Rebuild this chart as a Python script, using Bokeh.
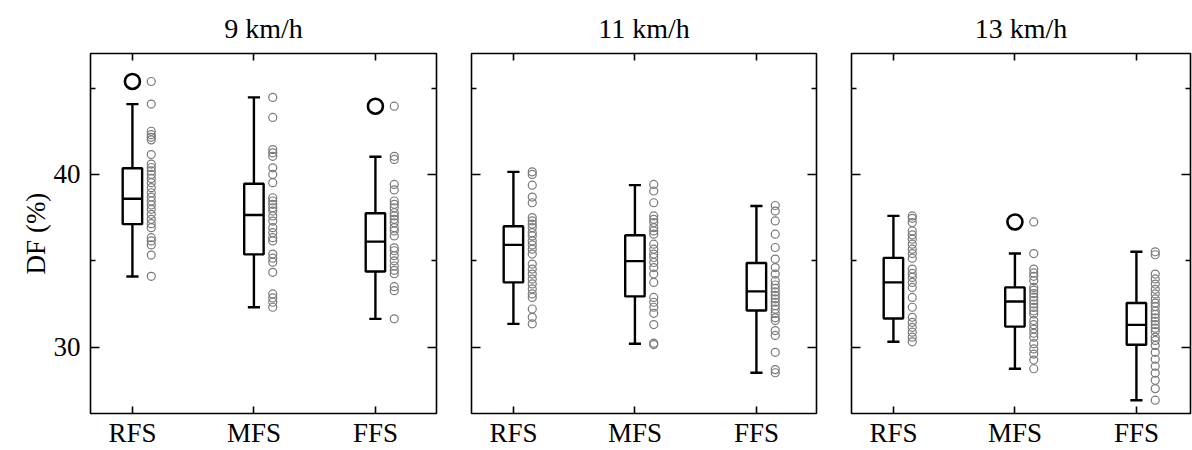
from bokeh.plotting import figure
from bokeh.layouts import row
from bokeh.models import FixedTicker, LinearAxis, Range1d, ColumnDataSource
from bokeh.embed import file_html
from bokeh.resources import INLINE

# ---------------- data ----------------
speeds = ["9 km/h", "11 km/h", "13 km/h"]
strikes = ["RFS", "MFS", "FFS"]

# box statistics per speed (order: RFS, MFS, FFS)
q1 = [[37.12, 35.37, 34.38], [33.75, 32.94, 32.12], [31.66, 31.19, 30.14]]
med = [[38.59, 37.65, 36.11], [35.92, 34.98, 33.23], [33.75, 32.64, 31.29]]
q3 = [[40.36, 39.46, 37.75], [37.00, 36.48, 34.87], [35.17, 33.46, 32.56]]
whis_lo = [[34.09, 32.31, 31.64], [31.35, 30.20, 28.52], [30.31, 28.75, 26.93]]
whis_hi = [[44.07, 44.46, 41.02], [40.15, 39.38, 38.17], [37.60, 35.42, 35.52]]
outliers = [[[45.38], [], [43.95]], [[], [], []], [[], [37.25], []]]

pts_9_rfs = [45.38, 44.07, 42.5, 42.3, 42.15, 42.0, 41.15, 40.6, 40.4, 40.2, 40.0, 39.77,
             39.52, 39.23, 38.94, 38.69, 38.46, 38.23, 37.98, 37.69, 37.4, 37.15, 36.92,
             36.34, 36.15, 35.92, 35.33, 34.1]
pts_9_mfs = [44.46, 43.3, 41.44, 41.25, 41.05, 40.38, 40.0, 39.52, 38.65, 38.46, 38.27,
             38.07, 37.88, 37.6, 37.3, 36.92, 36.63, 36.34, 36.15, 35.39, 35.15, 34.92,
             34.33, 33.08, 32.85, 32.6, 32.31]
pts_9_ffs = [43.95, 41.05, 40.87, 39.42, 39.1, 38.46, 38.27, 38.07, 37.78, 37.6, 37.4, 37.2,
             36.92, 36.73, 36.44, 35.75, 35.58, 35.3, 35.0, 34.7, 34.45, 34.25, 33.5, 33.27,
             31.64]
pts_11_rfs = [40.15, 40.0, 39.38, 38.69, 38.36, 37.5, 37.31, 37.12, 36.92, 36.63, 36.44,
              36.15, 35.92, 35.67, 35.39, 34.81, 34.52, 34.23, 33.94, 33.66, 33.37, 33.08,
              32.88, 32.21, 31.73, 31.35]
pts_11_mfs = [39.42, 39.04, 38.36, 37.6, 37.4, 37.21, 36.92, 36.73, 36.54, 35.96, 35.67,
              35.39, 35.19, 34.9, 34.61, 34.23, 33.75, 32.88, 32.6, 32.31, 31.96, 31.31,
              30.23, 30.15]
pts_11_ffs = [38.2, 37.88, 37.31, 36.54, 35.77, 35.1, 34.61, 34.23, 33.85, 33.6, 33.4, 33.2,
              33.0, 32.8, 32.6, 32.4, 32.2, 31.95, 31.7, 31.54, 30.96, 30.68, 29.7, 28.7,
              28.52]
pts_13_rfs = [37.6, 37.46, 37.21, 36.73, 36.5, 36.25, 35.96, 35.67, 35.42, 35.15, 34.52,
              34.27, 34.04, 33.75, 33.46, 32.88, 32.31, 31.73, 31.44, 31.15, 30.87, 30.58,
              30.31]
pts_13_mfs = [37.25, 35.42, 34.52, 34.3, 34.1, 33.85, 33.46, 33.3, 33.1, 32.9, 32.7, 32.5,
              32.3, 32.1, 31.92, 31.54, 31.3, 31.05, 30.8, 30.58, 30.2, 29.9, 29.6, 29.25,
              28.75]
pts_13_ffs = [35.52, 35.35, 34.23, 33.95, 33.65, 33.35, 33.08, 32.79, 32.55, 32.35, 32.1,
              31.9, 31.7, 31.5, 31.3, 31.1, 30.9, 30.58, 30.39, 30.1, 29.7, 29.3, 28.9, 28.5,
              28.08, 27.6, 26.93]
points = [[pts_9_rfs, pts_9_mfs, pts_9_ffs],
          [pts_11_rfs, pts_11_mfs, pts_11_ffs],
          [pts_13_rfs, pts_13_mfs, pts_13_ffs]]

y_ticks = [30, 40]
y_minor = [25, 35, 45]
y_lim = (26.16, 47.0)

# ---------------- style ----------------
FONT = "Liberation Serif"
FS = "27px"
TITLE_FS = "28px"
BOX_W = 0.16
CAP_W = 0.10
PT_OFF = 0.155
X_LO = -0.345
UNIT_PX = 121.5
FIG_H = 450

layout_specs = [  # (min_border_left, frame_width, min_border_right)
    (90, 346, 17),
    (18, 345, 17),
    (18, 339, 2),
]


def style_axis(ax, labels=True):
    ax.axis_line_color = None
    ax.major_tick_in = 9
    ax.major_tick_out = 0
    ax.minor_tick_in = 5
    ax.minor_tick_out = 0
    ax.major_tick_line_width = 1.6
    ax.minor_tick_line_width = 1.6
    ax.major_tick_line_color = "black"
    ax.minor_tick_line_color = "black"
    if labels:
        ax.major_label_text_font = FONT
        ax.major_label_text_font_size = FS
        ax.major_label_text_color = "black"
    else:
        ax.major_label_text_font_size = "0px"
        ax.major_label_text_color = None
        ax.major_label_standoff = 0


figs = []
for i, speed in enumerate(speeds):
    bl, fw, br = layout_specs[i]
    xr = Range1d(X_LO, X_LO + fw / UNIT_PX)
    p = figure(width=bl + fw + br, height=FIG_H, x_range=xr, y_range=Range1d(*y_lim),
               output_backend="svg", toolbar_location=None, title=speed,
               min_border_left=bl, min_border_right=br, min_border_top=52,
               min_border_bottom=37)
    p.background_fill_color = "white"
    p.border_fill_color = "white"
    p.xgrid.visible = False
    p.ygrid.visible = False
    p.outline_line_color = "black"
    p.outline_line_width = 1.6
    p.title.text_font = FONT
    p.title.text_font_size = TITLE_FS
    p.title.text_font_style = "normal"
    p.title.text_color = "black"
    p.title.align = "center"
    p.title.standoff = 20

    xt = FixedTicker(ticks=list(range(len(strikes))), minor_ticks=[])
    yt = FixedTicker(ticks=y_ticks, minor_ticks=y_minor)

    bottom = p.xaxis[0]
    left = p.yaxis[0]
    top = LinearAxis()
    right = LinearAxis()
    p.add_layout(top, "above")
    p.add_layout(right, "right")

    for ax in (bottom, top):
        ax.ticker = xt
    for ax in (left, right):
        ax.ticker = yt
    style_axis(bottom, True)
    bottom.major_tick_in = 7
    bottom.major_label_overrides = {k: s for k, s in enumerate(strikes)}
    bottom.major_label_standoff = 4
    style_axis(top, False)
    top.major_tick_in = 7
    style_axis(right, False)
    if i == 0:
        style_axis(left, True)
        left.major_label_standoff = 10
        left.axis_label = "DF (%)"
        left.axis_label_text_font = FONT
        left.axis_label_text_font_size = FS
        left.axis_label_text_font_style = "normal"
        left.axis_label_text_color = "black"
        left.axis_label_standoff = 0
    else:
        style_axis(left, False)

    xs = list(range(len(strikes)))
    src = ColumnDataSource(dict(
        x=xs,
        l=[x - BOX_W / 2 for x in xs], r=[x + BOX_W / 2 for x in xs],
        cl=[x - CAP_W / 2 for x in xs], cr=[x + CAP_W / 2 for x in xs],
        q1=q1[i], med=med[i], q3=q3[i], lo=whis_lo[i], hi=whis_hi[i],
    ))
    lk = dict(line_color="black", line_width=2.4, source=src)
    p.segment(x0="x", x1="x", y0="q3", y1="hi", **lk)
    p.segment(x0="x", x1="x", y0="lo", y1="q1", **lk)
    p.segment(x0="cl", x1="cr", y0="hi", y1="hi", **lk)
    p.segment(x0="cl", x1="cr", y0="lo", y1="lo", **lk)
    p.quad(left="l", right="r", bottom="q1", top="q3", fill_color="white", **lk)
    p.segment(x0="l", x1="r", y0="med", y1="med", **lk)

    # outliers
    ox, oy = [], []
    for k, vals in enumerate(outliers[i]):
        ox += [k] * len(vals)
        oy += vals
    if ox:
        p.scatter(x=ox, y=oy, marker="circle", size=15, fill_color=None,
                  line_color="black", line_width=2.6)

    # individual points
    px, py = [], []
    for k, vals in enumerate(points[i]):
        px += [k + PT_OFF] * len(vals)
        py += vals
    p.scatter(x=px, y=py, marker="circle", size=8, fill_color=None,
              line_color="#7a7a7a", line_width=1.2)
    figs.append(p)

layout = row(*figs, spacing=0)
open("out.html", "w").write(file_html(layout, INLINE))
